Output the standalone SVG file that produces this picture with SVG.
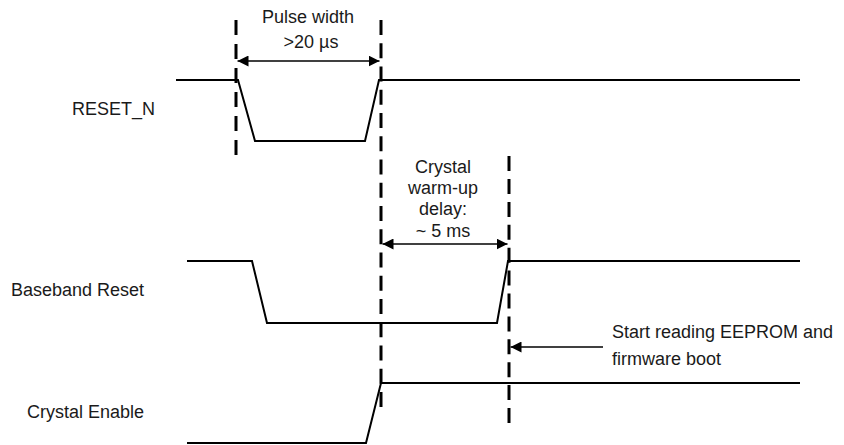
<svg xmlns="http://www.w3.org/2000/svg" width="844" height="445" viewBox="0 0 844 445">
<defs>
<style>
.sig{fill:none;stroke:#000;stroke-width:2;stroke-linejoin:miter}
.dash{fill:none;stroke:#000;stroke-width:3;stroke-dasharray:15 9}
.dim{fill:none;stroke:#000;stroke-width:1.3}
text{font-family:"Liberation Sans",Arial,sans-serif;font-size:18px;fill:#1a1a1a}
.c{text-anchor:middle}
</style>
<marker id="ah" viewBox="0 0 10 10" refX="10" refY="5" markerWidth="11" markerHeight="11" markerUnits="userSpaceOnUse" orient="auto-start-reverse">
<path d="M0,0 L10,5 L0,10 Z" fill="#000"/>
</marker>
</defs>
<rect width="844" height="445" fill="#fff"/>
<g id="signal-reset-n">
<text x="72" y="115">RESET_N</text>
<polyline class="sig" points="176,80 238,80 255,141 365,141 379,80 800,80"/>
</g>
<g id="signal-baseband-reset">
<text x="11" y="296">Baseband Reset</text>
<polyline class="sig" points="187,261 252,261 267,323 497,323 508,261 800,261"/>
</g>
<g id="signal-crystal-enable">
<text x="27" y="418">Crystal Enable</text>
<polyline class="sig" points="187,443 366,443 381,383 800,383"/>
</g>
<g id="markers">
<line class="dash" x1="236" y1="155" x2="236" y2="20"/>
<line class="dash" x1="381" y1="407" x2="381" y2="20" style="stroke-dasharray:15 8.25"/>
<line class="dash" x1="509" y1="423" x2="509" y2="156" style="stroke-dasharray:15 7.9"/>
</g>
<g id="connectors">
<line class="dim" x1="237.5" y1="61" x2="379.5" y2="61" marker-start="url(#ah)" marker-end="url(#ah)"/>
<line class="dim" x1="382.5" y1="244" x2="507.5" y2="244" marker-start="url(#ah)" marker-end="url(#ah)"/>
<line class="dim" x1="603" y1="347" x2="510.5" y2="347" marker-end="url(#ah)"/>
</g>
<g id="label-pulse-width">
<text class="c" x="308" y="23">Pulse width</text>
<text class="c" x="311" y="48">&gt;20 µs</text>
</g>
<g id="label-warmup">
<text class="c" x="443" y="173">Crystal</text>
<text class="c" x="443" y="194">warm-up</text>
<text class="c" x="443" y="215">delay:</text>
<text class="c" x="443" y="237">~ 5 ms</text>
</g>
<g id="label-eeprom">
<text x="612" y="338">Start reading EEPROM and</text>
<text x="612" y="365">firmware boot</text>
</g>
</svg>
